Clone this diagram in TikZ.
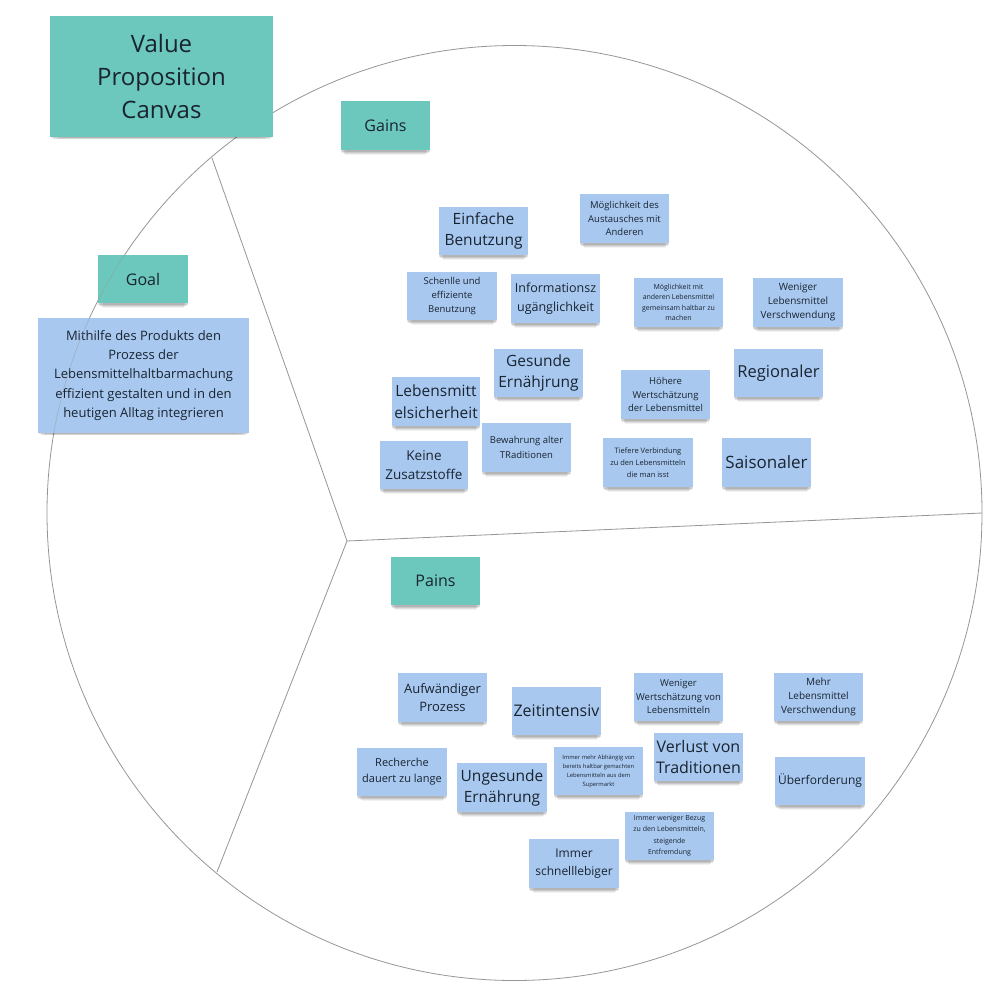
\documentclass[tikz,border=0pt]{standalone}
\usepackage{fontspec}
\setmainfont{Open Sans}
\usetikzlibrary{shadows}
\definecolor{teal1}{RGB}{108,200,188}
\definecolor{blue1}{RGB}{168,200,240}
\definecolor{txt}{RGB}{25,36,48}
\definecolor{ln}{RGB}{150,150,150}
\newcommand{\fsz}[2]{\fontsize{#1}{#2}\selectfont}
\tikzset{
  sticky/.style={rectangle, inner sep=1pt, align=center, text=txt,
    drop shadow={shadow xshift=0pt, shadow yshift=-2pt, shadow scale=0.99, opacity=0.10, fill=black},
    drop shadow={shadow xshift=0pt, shadow yshift=-4pt, shadow scale=0.97, opacity=0.10, fill=black},
    drop shadow={shadow xshift=0pt, shadow yshift=-6pt, shadow scale=0.94, opacity=0.07, fill=black},
    drop shadow={shadow xshift=0pt, shadow yshift=-8pt, shadow scale=0.90, opacity=0.05, fill=black}},
  tealnote/.style={sticky, fill=teal1},
  bluenote/.style={sticky, fill=blue1},
  divider/.style={draw=ln, line width=0.8pt},
}
\begin{document}
\begin{tikzpicture}[x=1pt,y=-1pt]
\useasboundingbox (0,0) rectangle (1002,997);
\fill[white] (0,0) rectangle (1002,997);
% circle and dividers
\node[circle, draw=ln, line width=0.8pt, minimum size=935pt, inner sep=0pt] (circ) at (514.5,513) {};
\coordinate (J) at (347,541);
\coordinate (A) at (212,158);
\coordinate (B) at (982,513);
\coordinate (C) at (217,872);
\draw[divider] (J) -- (A);
\draw[divider] (J) -- (B);
\draw[divider] (J) -- (C);
% headers
\node[tealnote, minimum width=223pt, minimum height=121pt, font=\fsz{24}{33}] (vpc) at (161.5,76.5) {Value\\Proposition\\Canvas};
\node[tealnote, minimum width=89pt, minimum height=49pt, font=\fsz{16}{20}] (gains) at (385.5,125.5) {Gains};
\node[tealnote, minimum width=89pt, minimum height=48pt, font=\fsz{16}{20}] (pains) at (435.5,581) {Pains};
\node[tealnote, minimum width=90pt, minimum height=48pt, font=\fsz{16}{20}] (goal) at (143,279) {Goal};
\node[bluenote, minimum width=211pt, minimum height=115pt, font=\fsz{13}{19.3}] (goaltxt) at (143.5,375.5) {Mithilfe des Produkts den\\Prozess der\\Lebensmittelhaltbarmachung\\effizient gestalten und in den\\heutigen Alltag integrieren};
% faint circle line seen through the goal notes
\begin{scope}
\clip (goal.north west) rectangle (goal.south east) (goaltxt.north west) rectangle (goaltxt.south east);
\draw[draw=ln, line width=0.6pt, opacity=0.5] (circ.center) circle[radius=467.5pt];
\end{scope}
% gains
\node[bluenote, minimum width=89pt, minimum height=48pt, font=\fsz{15.5}{21}] (g1) at (483.5,231) {Einfache\\Benutzung};
\node[bluenote, minimum width=89pt, minimum height=49pt, font=\fsz{9.5}{13.5}] (g2) at (624.5,218.5) {Möglichkeit des\\Austausches mit\\Anderen};
\node[bluenote, minimum width=90pt, minimum height=48pt, font=\fsz{9.5}{14}] (g3) at (452,296) {Schenlle und\\effiziente\\Benutzung};
\node[bluenote, minimum width=89pt, minimum height=49pt, font=\fsz{12.5}{19}] (g4) at (555.5,298.5) {Informationsz\\ugänglichkeit};
\node[bluenote, minimum width=89pt, minimum height=49pt, font=\fsz{7}{10.5}] (g5) at (678.5,302.5) {Möglichkeit mit\\anderen Lebensmittel\\gemeinsam haltbar zu\\machen};
\node[bluenote, minimum width=90pt, minimum height=49pt, font=\fsz{10}{14}] (g6) at (798,302.5) {Weniger\\Lebensmittel\\Verschwendung};
\node[bluenote, minimum width=89pt, minimum height=48pt, font=\fsz{15.5}{21}] (g7) at (538.5,373) {Gesunde\\Ernähjrung};
\node[bluenote, minimum width=88pt, minimum height=49pt, font=\fsz{15.5}{22}] (g8) at (436,401.5) {Lebensmitt\\elsicherheit};
\node[bluenote, minimum width=88pt, minimum height=48pt, font=\fsz{13.5}{19}] (g9) at (424,465) {Keine\\Zusatzstoffe};
\node[bluenote, minimum width=89pt, minimum height=49pt, font=\fsz{9.5}{15}] (g10) at (526.5,447.5) {Bewahrung alter\\TRaditionen};
\node[bluenote, minimum width=89pt, minimum height=49pt, font=\fsz{9.5}{13.5}] (g11) at (665.5,394.5) {Höhere\\Wertschätzung\\der Lebensmittel};
\node[bluenote, minimum width=89pt, minimum height=48pt, font=\fsz{16.5}{22}] (g12) at (778.5,373) {Regionaler};
\node[bluenote, minimum width=90pt, minimum height=49pt, font=\fsz{7.5}{12}] (g13) at (648,462.5) {Tiefere Verbindung\\zu den Lebensmitteln\\die man isst};
\node[bluenote, minimum width=89pt, minimum height=49pt, font=\fsz{17}{22}] (g14) at (766.5,462.5) {Saisonaler};
% pains
\node[bluenote, minimum width=89pt, minimum height=49pt, font=\fsz{13}{18.5}] (p1) at (442.5,697.5) {Aufwändiger\\Prozess};
\node[bluenote, minimum width=89pt, minimum height=48pt, font=\fsz{16}{21}] (p2) at (556.5,711) {Zeitintensiv};
\node[bluenote, minimum width=90pt, minimum height=48pt, font=\fsz{11}{16}] (p3) at (402,772) {Recherche\\dauert zu lange};
\node[bluenote, minimum width=90pt, minimum height=49pt, font=\fsz{15.5}{21}] (p4) at (502,787.5) {Ungesunde\\Ernährung};
\node[bluenote, minimum width=90pt, minimum height=49pt, font=\fsz{12}{17.5}] (p5) at (574,863.5) {Immer\\schnelllebiger};
\node[bluenote, minimum width=89pt, minimum height=48pt, font=\fsz{9.5}{13.5}] (p6) at (678.5,697) {Weniger\\Wertschätzung von\\Lebensmitteln};
\node[bluenote, minimum width=89pt, minimum height=48pt, font=\fsz{10}{14}] (p7) at (818.5,697) {Mehr\\Lebensmittel\\Verschwendung};
\node[bluenote, minimum width=89pt, minimum height=48pt, font=\fsz{16}{21}] (p8) at (698.5,757) {Verlust von\\Traditionen};
\node[bluenote, minimum width=89pt, minimum height=48pt, font=\fsz{5.8}{9}] (p9) at (598.5,771) {Immer mehr Abhängig von\\bereits haltbar gemachten\\Lebensmitteln aus dem\\Supermarkt};
\node[bluenote, minimum width=90pt, minimum height=48pt, font=\fsz{12}{17}] (p10) at (820,781) {Überforderung};
\node[bluenote, minimum width=89pt, minimum height=48pt, font=\fsz{7}{11.5}] (p11) at (669.5,836) {Immer weniger Bezug\\zu den Lebensmitteln,\\steigende\\Entfremdung};
\end{tikzpicture}
\end{document}
